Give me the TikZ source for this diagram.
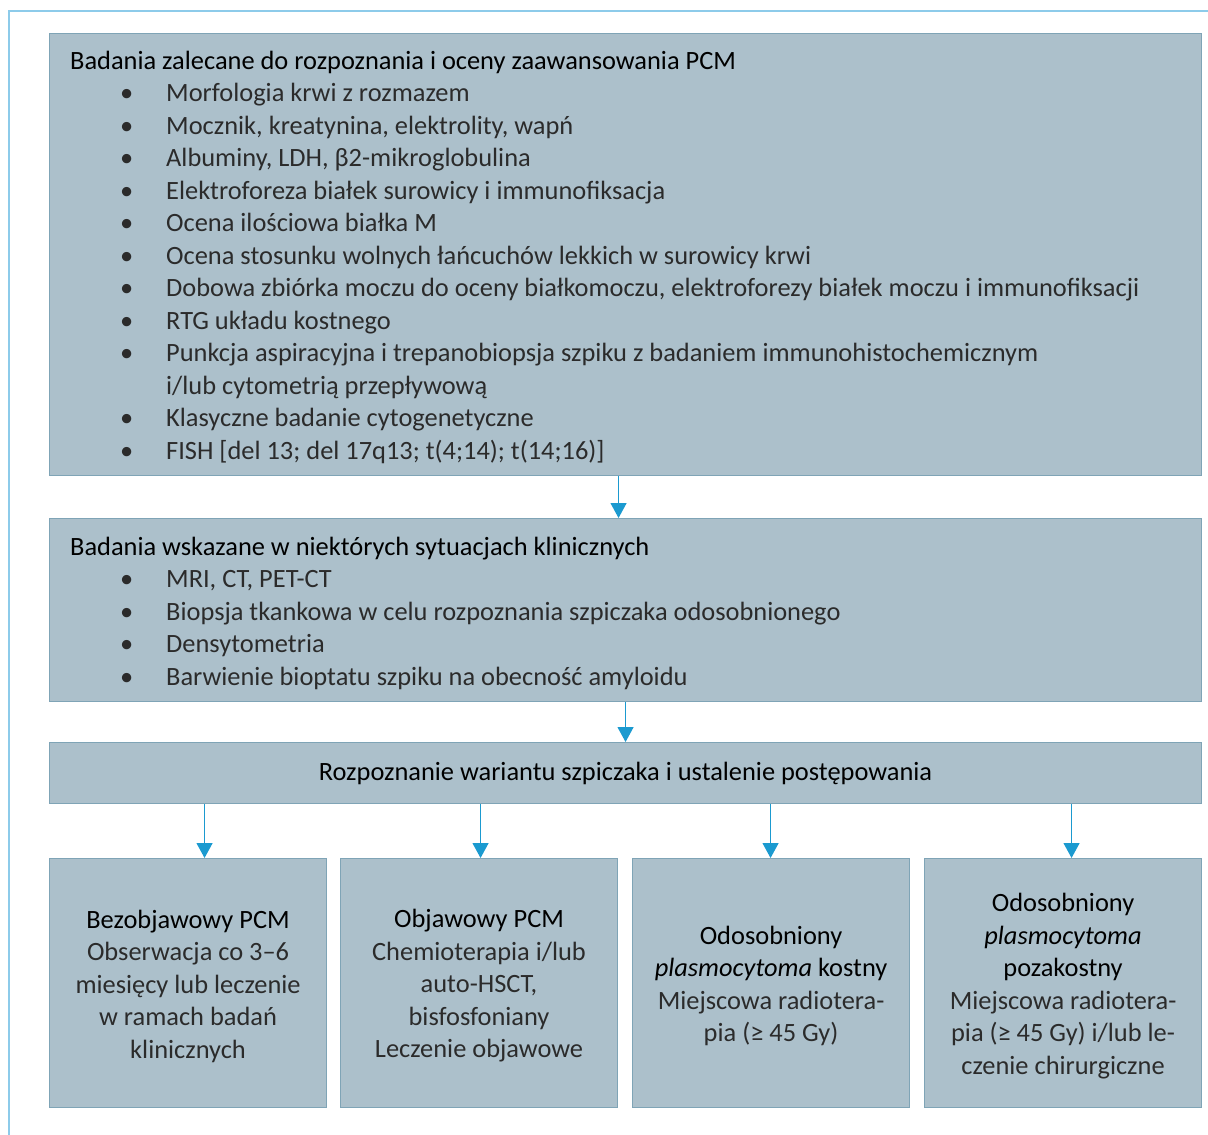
\documentclass[tikz,border=0pt]{standalone}
\usepackage{fontspec}
\setmainfont{Carlito}
\usetikzlibrary{arrows.meta}
\definecolor{boxfill}{HTML}{ACC0CB}
\definecolor{boxline}{HTML}{7FA4B6}
\definecolor{arrowblue}{HTML}{1B9AD0}
\definecolor{framelb}{HTML}{8DCBEA}
\definecolor{bodytext}{HTML}{2B2B2B}
\newcommand\bulitem{\hspace*{50pt}\makebox[46pt][l]{•}}
\newcommand\contitem{\hspace*{96pt}}
\newcommand\bodyc{\color{bodytext}}
\tikzset{
  box/.style={draw=boxline, fill=boxfill, line width=1.1pt, inner sep=0pt, anchor=north west},
  txt/.style={font=\fontsize{26.4}{32.5}\selectfont, inner sep=0pt},
  arr/.style={draw=arrowblue, line width=1.3pt, -{Triangle[width=16pt,length=15pt]}},
}
\begin{document}
\begin{tikzpicture}[x=1pt,y=-1pt]
\useasboundingbox (0,0) rectangle (1208,1135);
\draw[framelb, line width=1.6pt] (9,1135) -- (9,11) -- (1208,11);

\node[box, minimum width=1152pt, minimum height=442pt] (b1) at (49,33) {};
\node[box, minimum width=1152pt, minimum height=183pt] (b2) at (49,518) {};
\node[box, minimum width=1152pt, minimum height=61pt] (b3) at (49,742) {};
\node[box, minimum width=277pt, minimum height=249pt] (bA) at (49,858) {};
\node[box, minimum width=277pt, minimum height=249pt] (bB) at (340,858) {};
\node[box, minimum width=277pt, minimum height=249pt] (bC) at (632,858) {};
\node[box, minimum width=277pt, minimum height=249pt] (bD) at (924,858) {};

\node[txt, anchor=base west, align=left] (t1) at (70,459) {Badania zalecane do rozpoznania i oceny zaawansowania PCM\\
\bodyc\bulitem Morfologia krwi z rozmazem\\
\bodyc\bulitem Mocznik, kreatynina, elektrolity, wapń\\
\bodyc\bulitem Albuminy, LDH, β2-mikroglobulina\\
\bodyc\bulitem Elektroforeza białek surowicy i immunofiksacja\\
\bodyc\bulitem Ocena ilościowa białka M\\
\bodyc\bulitem Ocena stosunku wolnych łańcuchów lekkich w surowicy krwi\\
\bodyc\bulitem Dobowa zbiórka moczu do oceny białkomoczu, elektroforezy białek moczu i immunofiksacji\\
\bodyc\bulitem RTG układu kostnego\\
\bodyc\bulitem Punkcja aspiracyjna i trepanobiopsja szpiku z badaniem immunohistochemicznym\\
\bodyc\contitem i/lub cytometrią przepływową\\
\bodyc\bulitem Klasyczne badanie cytogenetyczne\\
\bodyc\bulitem FISH [del 13; del 17q13; t(4;14); t(14;16)]};

\node[txt, anchor=base west, align=left] (t2) at (70,685) {Badania wskazane w niektórych sytuacjach klinicznych\\
\bodyc\bulitem MRI, CT, PET-CT\\
\bodyc\bulitem Biopsja tkankowa w celu rozpoznania szpiczaka odosobnionego\\
\bodyc\bulitem Densytometria\\
\bodyc\bulitem Barwienie bioptatu szpiku na obecność amyloidu};

\node[txt] (t3) at (b3.center) {Rozpoznanie wariantu szpiczaka i ustalenie postępowania};

\node[txt, align=center] (tA) at ([yshift=-3pt]bA.center) {Bezobjawowy PCM\\ \bodyc Obserwacja co 3–6\\ \bodyc miesięcy lub leczenie\\ \bodyc w ramach badań\\ \bodyc klinicznych};
\node[txt, align=center] (tB) at ([yshift=-3pt]bB.center) {Objawowy PCM\\ \bodyc Chemioterapia i/lub\\ \bodyc auto-HSCT,\\ \bodyc bisfosfoniany\\ \bodyc Leczenie objawowe};
\node[txt, align=center] (tC) at ([yshift=-3pt]bC.center) {Odosobniony\\ \textit{plasmocytoma} kostny\\ \bodyc Miejscowa radiotera-\\ \bodyc pia (≥ 45 Gy)};
\node[txt, align=center] (tD) at ([yshift=-3pt]bD.center) {Odosobniony\\ \textit{plasmocytoma}\\ pozakostny\\ \bodyc Miejscowa radiotera-\\ \bodyc pia (≥ 45 Gy) i/lub le-\\ \bodyc czenie chirurgiczne};

\draw[arr] ([xshift=-7pt]b1.south) -- ([xshift=-7pt]b2.north);
\draw[arr] (b2.south) -- (b3.north);
\draw[arr] ([xshift=16.5pt]bA.north |- b3.south) -- ([xshift=16.5pt]bA.north);
\draw[arr] ([xshift=1.5pt]bB.north |- b3.south) -- ([xshift=1.5pt]bB.north);
\draw[arr] ([xshift=-0.5pt]bC.north |- b3.south) -- ([xshift=-0.5pt]bC.north);
\draw[arr] ([xshift=8.5pt]bD.north |- b3.south) -- ([xshift=8.5pt]bD.north);
\end{tikzpicture}
\end{document}
